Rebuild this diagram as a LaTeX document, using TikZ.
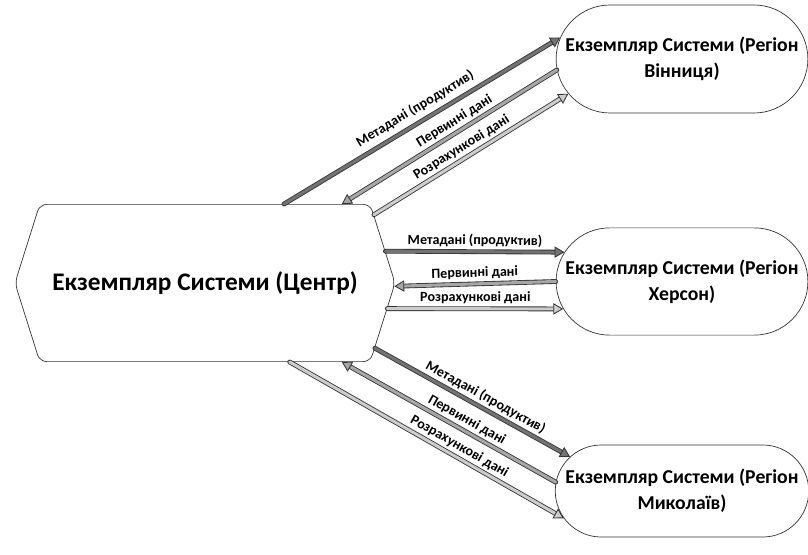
\documentclass[tikz,border=0pt]{standalone}
\usepackage{fontspec}
\setmainfont{Carlito}
\usetikzlibrary{arrows.meta,shapes.symbols,shapes.misc}
\tikzset{
  hubnode/.style={signal,signal to=west and east,signal pointer angle=145,draw=black!80,line width=0.5pt,rounded corners=5pt,minimum width=9.5cm,minimum height=3.93cm,font=\bfseries\fontsize{18}{21}\selectfont},
  regnode/.style={rounded rectangle,draw=black!80,line width=0.5pt,minimum width=6.25cm,align=center,font=\bfseries\fontsize{14}{18.5}\selectfont},
  flow/.style={double distance=2.2pt,line width=0.6pt,draw=black!80,double=#1,-{Triangle[length=7pt,width=8pt,fill=#1]}},
  lbl/.style={sloped,above,inner sep=3pt,font=\bfseries\fontsize{10}{11}\selectfont},
  every picture/.style={line cap=round,line join=round}
}
\begin{document}
\begin{tikzpicture}[x=0.025cm,y=0.025cm]
  \useasboundingbox (0,0) rectangle (808,554);
  \node[hubnode] (centre) at (205,271) {Екземпляр Системи (Центр)};
  \node[regnode,minimum height=2.7cm] (vin) at (682,495) {Екземпляр Системи (Регіон\\Вінниця)};
  \node[regnode,minimum height=2.68cm] (her) at (682,272.5) {Екземпляр Системи (Регіон\\Херсон)};
  \node[regnode,minimum height=2.3cm] (myk) at (682,63) {Екземпляр Системи (Регіон\\Миколаїв)};

  % Вінниця
  \draw[flow=black!55] (centre.45) -- node[lbl,inner sep=5pt] {Метадані (продуктив)} (vin.170);
  \draw[flow=black!35] (vin.185) -- node[lbl,pos=0.45] {Первинні дані} (centre.30);
  \draw[flow=black!20] (centre.22) -- node[lbl,pos=0.48] {Розрахункові дані} (vin.197);
  % Херсон
  \draw[flow=black!55] (centre.10) -- node[lbl] {Метадані (продуктив)} (her.166);
  \draw[flow=black!35] (her.180) -- node[lbl] {Первинні дані} (centre.-1);
  \draw[flow=black!20] (centre.-8) -- node[lbl] {Розрахункові дані} (her.193);
  % Миколаїв
  \draw[flow=black!55] (centre.-21) -- node[lbl,pos=0.54] {Метадані (продуктив)} (myk.163);
  \draw[flow=black!35] (myk.176) -- node[lbl,pos=0.44] {Первинні дані} (centre.-30);
  \draw[flow=black!20] (centre.-43) -- node[lbl,pos=0.6] {Розрахункові дані} (myk.193);
\end{tikzpicture}
\end{document}
